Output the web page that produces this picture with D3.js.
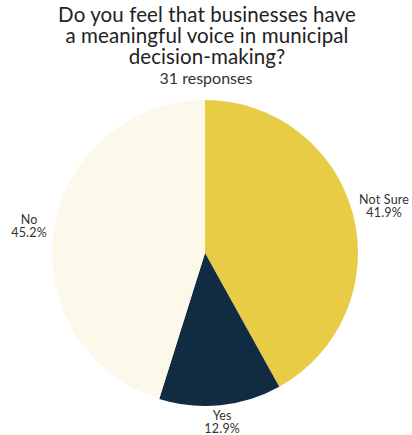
<!DOCTYPE html>
<html><head><meta charset="utf-8">
<script src="https://cdn.jsdelivr.net/npm/d3@7"></script>
<style>body{margin:0;background:#fff}svg{display:block}</style>
</head><body>
<svg id="c" width="412" height="435"></svg>
<script>
const titleLines = ["Do you feel that businesses have", "a meaningful voice in municipal", "decision-making?"];
const subtitle = "31 responses";
const categories = ["Not Sure", "Yes", "No"];
const counts = [13, 4, 14];
const percents = ["41.9%", "12.9%", "45.2%"];
const colors = ["#E8CC45", "#102B42", "#FCF8EA"];

const svg = d3.select("#c");
const font = "Lato, 'Open Sans', sans-serif";
const W = 412;
svg.append("g").selectAll("text").data(titleLines).join("text")
  .attr("x", W/2 + 1).attr("y", (d,i)=>22 + i*21)
  .attr("text-anchor","middle").attr("font-family", font).attr("font-size", 20.5)
  .attr("letter-spacing", 0.1)
  .attr("fill","#222").text(d=>d);
svg.append("text").attr("x", W/2).attr("y", 84).attr("text-anchor","middle")
  .attr("font-family", font).attr("font-size", 16).attr("fill","#333").text(subtitle);

const cx = 205, cy = 253, r = 153;
const data = categories.map((c,i)=>({c, v: counts[i], p: percents[i], col: colors[i]}));
const pie = d3.pie().value(d=>d.v).sort(null);
const arc = d3.arc().innerRadius(0).outerRadius(r);
const arcs = pie(data);
const g = svg.append("g").attr("transform", `translate(${cx},${cy})`);
g.selectAll("path").data(arcs).join("path").attr("d", arc).attr("fill", d=>d.data.col);

// label placement: radial distance from centre per slice, at the slice mid-angle
const labelDist = [185, 170, 178];
const lg = g.selectAll("g.lab").data(arcs).join("g").attr("class","lab")
  .attr("transform", (d,i)=>{
    const a = (d.startAngle + d.endAngle)/2;
    const x = Math.sin(a)*labelDist[i], y = -Math.cos(a)*labelDist[i];
    return `translate(${x},${y})`;
  });
lg.append("text").attr("text-anchor","middle").attr("y",-2.5)
  .attr("font-family", font).attr("font-size", 12.5).attr("letter-spacing", 0.2)
  .attr("fill","#333").text(d=>d.data.c);
lg.append("text").attr("text-anchor","middle").attr("y",10.5)
  .attr("font-family", font).attr("font-size", 12.5).attr("letter-spacing", 0.2)
  .attr("fill","#333").text(d=>d.data.p);
</script>
</body></html>
